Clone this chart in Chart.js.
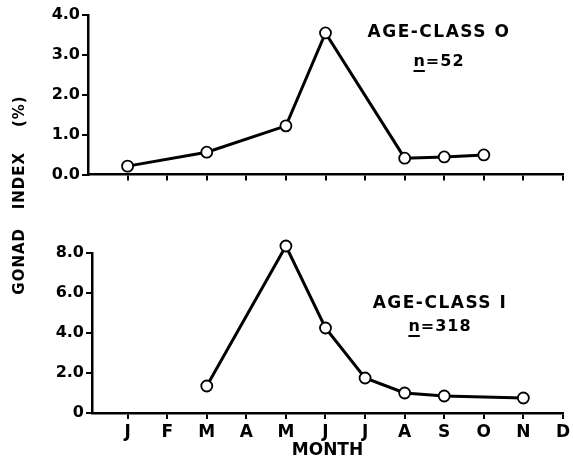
<!DOCTYPE html>
<html>
<head>
<meta charset="utf-8">
<script src="https://cdn.jsdelivr.net/npm/chart.js@4"></script>
<style>
  body { margin: 0; background: #fff; }
  #wrap { position: relative; width: 573px; height: 461px; }
  #wrap canvas { position: absolute; left: 0; top: 0; }
</style>
</head>
<body>
<div id="wrap">
  <canvas id="topChart" width="573" height="461"></canvas>
  <canvas id="bottomChart" width="573" height="461"></canvas>
</div>
<script>
// month tick labels (1 = Jan ... 12 = Dec)
const monthLabels = ['J', 'F', 'M', 'A', 'M', 'J', 'J', 'A', 'S', 'O', 'N', 'D'];

// age-class 0, n = 52
const age0Months = [1, 3, 5, 6, 8, 9, 10];
const age0Values = [0.21, 0.56, 1.22, 3.55, 0.41, 0.44, 0.49];

// age-class I, n = 318
const age1Months = [3, 5, 6, 7, 8, 9, 11];
const age1Values = [1.35, 8.35, 4.25, 1.75, 1.0, 0.85, 0.75];

const FONT = "'DejaVu Sans', sans-serif";

function toPoints(months, values) {
    return months.map((m, i) => ({ x: m, y: values[i] }));
}

// draws the "AGE-CLASS" label and underlined n
function classLabel(title, nText, cx, y1, y2) {
    return {
        id: 'classLabel',
        afterDraw(chart) {
            const ctx = chart.ctx;
            ctx.save();
            ctx.fillStyle = '#000';
            ctx.textBaseline = 'middle';
            ctx.textAlign = 'center';
            ctx.font = 'bold 17px ' + FONT;
            ctx.letterSpacing = '1.5px';
            ctx.fillText(title, cx, y1);
            ctx.font = 'bold 16px ' + FONT;
            ctx.letterSpacing = '1px';
            const full = 'n=' + nText;
            const w = ctx.measureText(full).width;
            ctx.textAlign = 'left';
            const x0 = cx - w / 2;
            ctx.fillText(full, x0, y2);
            const nw = ctx.measureText('n').width;
            ctx.fillRect(x0, y2 + 8, nw - 1, 2);
            ctx.restore();
        }
    };
}

const yTitle = {
    id: 'yTitle',
    afterDraw(chart) {
        const ctx = chart.ctx;
        ctx.save();
        ctx.translate(20, 195);
        ctx.rotate(-Math.PI / 2);
        ctx.fillStyle = '#000';
        ctx.font = 'bold 15px ' + FONT;
        ctx.letterSpacing = '1px';
        ctx.textAlign = 'center';
        ctx.textBaseline = 'middle';
        ctx.fillText('GONAD   INDEX    (%)', 0, 0);
        ctx.restore();
    }
};

function makeChart(id, months, values, cfg) {
    return new Chart(document.getElementById(id), {
        type: 'line',
        data: {
            datasets: [{
                data: toPoints(months, values),
                borderColor: '#000',
                borderWidth: 3,
                pointRadius: 5.5,
                pointBorderWidth: 1.8,
                pointBackgroundColor: '#fff',
                pointBorderColor: '#000',
                tension: 0,
                clip: false
            }]
        },
        options: {
            responsive: false,
            animation: false,
            layout: { padding: cfg.padding },
            plugins: { legend: { display: false }, tooltip: { enabled: false } },
            scales: {
                x: {
                    type: 'linear',
                    min: cfg.xMin,
                    max: 12,
                    afterBuildTicks: scale => {
                        scale.ticks = monthLabels.map((m, i) => ({ value: i + 1 }));
                    },
                    afterFit: scale => { scale.height = cfg.xHeight; },
                    grid: { drawOnChartArea: false, drawTicks: true, tickLength: 6, color: '#000', lineWidth: 2 },
                    border: { color: '#000', width: 2.5 },
                    ticks: {
                        display: cfg.showMonths,
                        color: '#000',
                        padding: 3,
                        font: { family: FONT, size: 17, weight: 'bold' },
                        callback: v => monthLabels[v - 1]
                    },
                    title: {
                        display: cfg.showMonths,
                        text: 'MONTH',
                        color: '#000',
                        padding: { top: 0, bottom: 0 },
                        font: { family: FONT, size: 17, weight: 'bold' }
                    }
                },
                y: {
                    min: 0,
                    max: cfg.yMax,
                    afterFit: scale => { scale.width = cfg.yWidth; },
                    grid: { drawOnChartArea: false, drawTicks: true, tickLength: 6, color: '#000', lineWidth: 2 },
                    border: { color: '#000', width: 2.5 },
                    ticks: {
                        stepSize: cfg.yStep,
                        color: '#000',
                        padding: 2,
                        font: { family: FONT, size: 16, weight: 'bold' },
                        callback: v => (v === 0 && cfg.plainZero) ? '0' : v.toFixed(1)
                    }
                }
            }
        },
        plugins: cfg.plugins
    });
}

makeChart('topChart', age0Months, age0Values, {
    padding: { left: 0, right: 10, top: 15, bottom: 276.5 },
    xMin: 0, xHeight: 10, yWidth: 88, yMax: 4, yStep: 1,
    showMonths: false, plainZero: false,
    plugins: [classLabel('AGE-CLASS O', '52', 439, 33, 62)]
});

makeChart('bottomChart', age1Months, age1Values, {
    padding: { left: 0, right: 8, top: 253, bottom: 0 },
    xMin: 0.1, xHeight: 48, yWidth: 92, yMax: 8, yStep: 2,
    showMonths: true, plainZero: true,
    plugins: [classLabel('AGE-CLASS I', '318', 440, 304, 327), yTitle]
});
</script>
</body>
</html>
